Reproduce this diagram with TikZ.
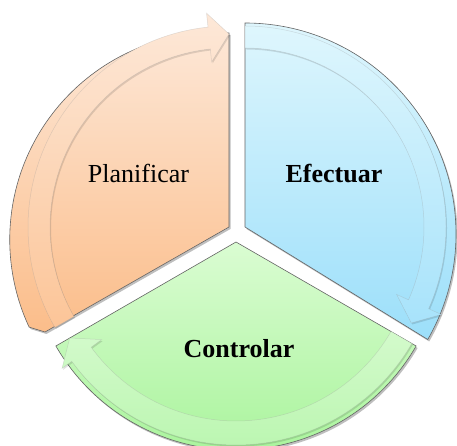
\documentclass[tikz,border=0pt]{standalone}
\usepackage{fontspec}
\setmainfont{Liberation Serif}
\usetikzlibrary{shadows}
\definecolor{orT}{RGB}{253,232,216}
\definecolor{orB}{RGB}{251,189,138}
\definecolor{blT}{RGB}{222,246,253}
\definecolor{blB}{RGB}{156,223,250}
\definecolor{grT}{RGB}{218,252,210}
\definecolor{grB}{RGB}{164,243,150}
\definecolor{edgec}{RGB}{100,100,100}
\tikzset{
  pie/.style={draw=edgec, line width=0.6pt,
    drop shadow={shadow xshift=1.5pt, shadow yshift=-2pt, opacity=0.25, fill=black}},
  band/.style={draw=black!40, draw opacity=0.3, line width=0.5pt,
    drop shadow={shadow xshift=1pt, shadow yshift=-1.5pt, opacity=0.12, fill=black}},
  lab/.style={font=\fontsize{26}{30}\selectfont, anchor=base, text=black},
  labb/.style={font=\bfseries\fontsize{26}{30}\selectfont, anchor=base, text=black},
}
\begin{document}
\begin{tikzpicture}[x=1pt,y=1pt]
\useasboundingbox (0,0) rectangle (457,446);
\coordinate (Ao) at (229,219);
\coordinate (Ab) at (245,219);
\coordinate (Ag) at (236,204);

% orange (Planificar)
\path[pie, top color=orT, bottom color=orB]
  (Ao) -- (229,413) arc[start angle=86.6, end angle=205, radius=207pt] -- (45,114) -- cycle;
\begin{scope}[shift={(Ao)}]
\path[band, top color=orT, bottom color=orB!88!white]
  (210:179pt) arc[start angle=210, end angle=96, radius=179pt]
  -- (96:166pt) -- (90:193pt) -- (96:215pt) -- (96:201pt)
  arc[start angle=96, end angle=210, radius=201pt] -- cycle;
\end{scope}

% blue (Efectuar)
\begin{scope}[shift={(Ab)}]
\path[pie, top color=blT, bottom color=blB]
  (0,0) -- (90:204pt) arc[start angle=90, end angle=-30, radius=211pt] -- cycle;
\path[band, top color=blT, bottom color=blB!88!white]
  (90:179pt) arc[start angle=90, end angle=-24, radius=179pt]
  -- (-24:166pt) -- (-30:192pt) -- (-24:215pt) -- (-24:201pt)
  arc[start angle=-24, end angle=90, radius=201pt] -- cycle;
\end{scope}

% green (Controlar)
\begin{scope}[shift={(Ag)}]
\path[pie, top color=grT, bottom color=grB]
  (0,0) -- (-30:208pt) arc[start angle=-30, end angle=-150, radius=208pt] -- cycle;
\path[band, top color=grT!60!grB!75!white, bottom color=grB!75!white]
  (-30:179pt) arc[start angle=-30, end angle=-144, radius=179pt]
  -- (-144:166pt) -- (-150:192pt) -- (-144:215pt) -- (-144:203pt)
  arc[start angle=-144, end angle=-30, radius=203pt] -- cycle;
\end{scope}

\node[lab] (plan) at (138.5,263) {Planificar};
\node[labb] (efec) at (334,263) {Efectuar};
\node[labb] (ctrl) at (239,88) {Controlar};
\end{tikzpicture}
\end{document}
